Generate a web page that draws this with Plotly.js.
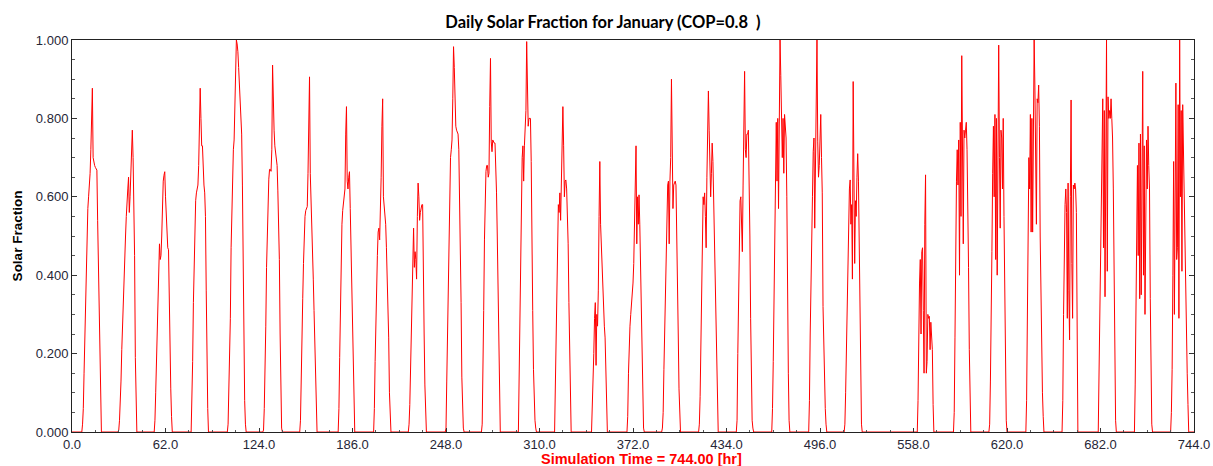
<!DOCTYPE html>
<html>
<head>
<meta charset="utf-8">
<script src="https://cdn.plot.ly/plotly-3.0.1.min.js"></script>
<style>
  html, body { margin: 0; padding: 0; background: #ffffff; }
  #chart { width: 1213px; height: 466px; }
</style>
</head>
<body>
<div id="chart"></div>
<script>
// ---- chart text ----
const chartTitle = "Daily Solar Fraction for January (COP=0.8\u00A0\u00A0)";
const xTitle = "Simulation Time = 744.00 [hr]";
const yTitle = "Solar Fraction";

// ---- time axis ----
const simulationHours = 744;
const stepHours = 0.5;          // spacing of the values inside each day
// hour of day (0-24) of the first value of each day; null = no sun that day
const dayStartHour = [6.5, 6.5, 6.5, 7.0, 7.0, 6.5, 7.0, 8.5, 8.0, 7.0,
                      7.5, 7.5, 8.0, 8.0, 8.5, 8.0, 7.0, 7.5, 8.5, 8.0,
                      8.5, 8.0, null, 8.5, 8.5, 8.0, 8.5, 8.5, 8.5, 8.5, 8.5];

// ---- solar fraction, one array per day, every 0.5 h from dayStartHour ----
const day01 = [0, 0.02, 0.06, 0.15, 0.24, 0.34, 0.43, 0.53, 0.57, 0.60, 0.625, 0.66, 0.72, 0.817, 0.877, 0.70, 0.685, 0.68, 0.675, 0.67, 0.668, 0.54, 0.42, 0.29, 0.13, 0.04, 0];
const day02 = [0, 0.005, 0.03, 0.07, 0.13, 0.21, 0.28, 0.35, 0.40, 0.45, 0.50, 0.55, 0.60, 0.62, 0.65, 0.56, 0.60, 0.68, 0.73, 0.77, 0.70, 0.61, 0.45, 0.19, 0.05, 0];
const day03 = [0, 0.03, 0.10, 0.18, 0.28, 0.38, 0.44, 0.48, 0.44, 0.45, 0.50, 0.58, 0.64, 0.655, 0.664, 0.60, 0.54, 0.50, 0.47, 0.465, 0.30, 0.20, 0.11, 0.04, 0];
const day04 = [0, 0.06, 0.18, 0.33, 0.45, 0.54, 0.59, 0.61, 0.62, 0.63, 0.68, 0.77, 0.877, 0.80, 0.73, 0.73, 0.67, 0.63, 0.61, 0.55, 0.36, 0.18, 0.06, 0];
const day05 = [0, 0.02, 0.11, 0.20, 0.29, 0.47, 0.57, 0.66, 0.72, 0.745, 0.82, 0.91, 1.0, 0.99, 0.97, 0.93, 0.89, 0.86, 0.81, 0.76, 0.63, 0.42, 0.22, 0.08, 0.02, 0];
const day06 = [0, 0.005, 0.06, 0.14, 0.27, 0.42, 0.53, 0.60, 0.645, 0.67, 0.67, 0.665, 0.72, 0.936, 0.82, 0.77, 0.73, 0.705, 0.695, 0.68, 0.615, 0.55, 0.44, 0.25, 0.10, 0.01, 0];
const day07 = [0, 0.03, 0.11, 0.20, 0.34, 0.43, 0.50, 0.55, 0.565, 0.57, 0.575, 0.66, 0.76, 0.906, 0.66, 0.57, 0.52, 0.47, 0.39, 0.31, 0.22, 0.15, 0.06, 0];
const day08 = [0, 0.06, 0.19, 0.33, 0.47, 0.53, 0.565, 0.58, 0.59, 0.62, 0.76, 0.83, 0.64, 0.62, 0.65, 0.664, 0.57, 0.47, 0.38, 0.29, 0.15, 0.02, 0];
const day09 = [0, 0.06, 0.18, 0.31, 0.40, 0.45, 0.51, 0.52, 0.49, 0.55, 0.65, 0.78, 0.85, 0.60, 0.575, 0.56, 0.53, 0.47, 0.40, 0.33, 0.24, 0.10, 0.03, 0];
const day10 = [0, 0.02, 0.07, 0.16, 0.29, 0.40, 0.48, 0.52, 0.42, 0.46, 0.44, 0.39, 0.55, 0.635, 0.60, 0.54, 0.56, 0.575, 0.58, 0.58, 0.47, 0.25, 0.12, 0.03, 0];
const day11 = [0, 0.01, 0.13, 0.25, 0.42, 0.56, 0.67, 0.70, 0.72, 0.745, 0.85, 0.983, 0.93, 0.81, 0.78, 0.77, 0.765, 0.76, 0.72, 0.62, 0.50, 0.33, 0.14, 0.04, 0.01, 0];
const day12 = [0, 0.02, 0.12, 0.31, 0.49, 0.64, 0.665, 0.68, 0.68, 0.65, 0.66, 0.83, 0.953, 0.74, 0.715, 0.745, 0.74, 0.737, 0.737, 0.69, 0.61, 0.50, 0.34, 0.19, 0.05, 0];
const day13 = [0, 0.15, 0.29, 0.47, 0.64, 0.70, 0.73, 0.64, 0.73, 0.80, 0.82, 0.996, 0.92, 0.78, 0.80, 0.80, 0.80, 0.69, 0.56, 0.31, 0.16, 0.07, 0.03, 0.01, 0];
const day14 = [0.0, 0.11, 0.25, 0.40, 0.51, 0.58, 0.56, 0.61, 0.54, 0.68, 0.75, 0.83, 0.73, 0.60, 0.64, 0.643, 0.62, 0.57, 0.48, 0.33, 0.17, 0.01, 0];
const day15 = [0, 0.05, 0.15, 0.20, 0.29, 0.33, 0.17, 0.30, 0.27, 0.36, 0.55, 0.69, 0.53, 0.47, 0.45, 0.40, 0.30, 0.27, 0.24, 0.13, 0.02, 0];
const day16 = [0, 0.04, 0.15, 0.23, 0.27, 0.30, 0.32, 0.35, 0.38, 0.43, 0.55, 0.65, 0.73, 0.48, 0.60, 0.53, 0.605, 0.53, 0.42, 0.30, 0.19, 0.07, 0.01, 0];
const day17 = [0, 0.01, 0.05, 0.16, 0.27, 0.36, 0.47, 0.56, 0.63, 0.64, 0.48, 0.64, 0.70, 0.90, 0.71, 0.57, 0.63, 0.64, 0.64, 0.63, 0.53, 0.40, 0.25, 0.11, 0.02, 0];
const day18 = [0, 0.02, 0.09, 0.25, 0.40, 0.53, 0.60, 0.58, 0.61, 0.55, 0.47, 0.65, 0.80, 0.87, 0.77, 0.62, 0.60, 0.66, 0.737, 0.69, 0.59, 0.49, 0.38, 0.26, 0.12, 0.02, 0];
const day19 = [0, 0.03, 0.20, 0.36, 0.49, 0.59, 0.60, 0.55, 0.46, 0.63, 0.80, 0.92, 0.72, 0.70, 0.76, 0.76, 0.77, 0.67, 0.50, 0.29, 0.12, 0.03, 0.01, 0];
const day20 = [0, 0.06, 0.18, 0.35, 0.58, 0.745, 0.79, 0.64, 0.80, 0.57, 0.78, 1.0, 0.91, 0.75, 0.70, 0.80, 0.66, 0.81, 0.76, 0.75, 0.60, 0.31, 0.15, 0.03, 0];
const day21 = [0, 0.08, 0.25, 0.42, 0.58, 0.60, 0.715, 0.75, 0.52, 0.65, 0.85, 1.0, 0.74, 0.65, 0.68, 0.75, 0.81, 0.70, 0.61, 0.32, 0.20, 0.12, 0.06, 0.02, 0];
const day22 = [0, 0.02, 0.10, 0.21, 0.36, 0.45, 0.55, 0.62, 0.643, 0.53, 0.58, 0.39, 0.894, 0.60, 0.43, 0.59, 0.55, 0.65, 0.71, 0.64, 0.50, 0.22, 0.08, 0.02, 0];
const day23 = [];
const day24 = [0, 0.08, 0.27, 0.38, 0.44, 0.25, 0.46, 0.47, 0.31, 0.15, 0.53, 0.656, 0.15, 0.18, 0.30, 0.29, 0.295, 0.21, 0.28, 0.24, 0.21, 0.07, 0];
const day25 = [0, 0.05, 0.24, 0.52, 0.64, 0.72, 0.63, 0.745, 0.40, 0.79, 0.55, 0.96, 0.70, 0.48, 0.77, 0.75, 0.77, 0.79, 0.72, 0.60, 0.42, 0.21, 0.05, 0];
const day26 = [0, 0.02, 0.13, 0.26, 0.46, 0.66, 0.78, 0.60, 0.81, 0.44, 0.80, 0.40, 0.86, 0.987, 0.70, 0.52, 0.77, 0.75, 0.62, 0.80, 0.55, 0.32, 0.14, 0.03, 0];
const day27 = [0, 0.08, 0.35, 0.55, 0.70, 0.62, 0.81, 0.51, 0.80, 0.51, 0.81, 1.0, 0.88, 0.62, 0.53, 0.85, 0.84, 0.885, 0.78, 0.50, 0.33, 0.18, 0.10, 0.04, 0];
const day28 = [0, 0.08, 0.30, 0.55, 0.58, 0.62, 0.56, 0.29, 0.635, 0.36, 0.235, 0.60, 0.847, 0.43, 0.29, 0.63, 0.62, 0.635, 0.62, 0.56, 0.25, 0];
const day29 = [0, 0.15, 0.34, 0.53, 0.68, 0.80, 0.85, 0.47, 0.82, 0.345, 0.82, 1.0, 0.41, 0.855, 0.80, 0.82, 0.80, 0.85, 0.80, 0.75, 0.62, 0.38, 0.13, 0.03, 0];
const day30 = [0, 0.12, 0.30, 0.52, 0.68, 0.45, 0.737, 0.34, 0.76, 0.35, 0.77, 0.92, 0.40, 0.73, 0.30, 0.70, 0.745, 0.62, 0.78, 0.68, 0.62, 0.34, 0.09, 0.02, 0];
const day31 = [0, 0.05, 0.16, 0.40, 0.69, 0.30, 0.82, 0.89, 0.44, 0.47, 0.835, 0.29, 1.0, 0.60, 0.82, 0.41, 0.835, 0.71, 0.62, 0.50, 0.32, 0.24, 0.15, 0.07, 0];

const dailyFraction = [day01, day02, day03, day04, day05, day06, day07, day08, day09, day10,
                       day11, day12, day13, day14, day15, day16, day17, day18, day19, day20,
                       day21, day22, day23, day24, day25, day26, day27, day28, day29, day30, day31];

// ---- axis ticks ----
const yTickValues = [0, 0.2, 0.4, 0.6, 0.8, 1.0];
const xTickStep = 62;

// ---- assemble the series ----
const simTime = [0];
const solarFraction = [0];
dailyFraction.forEach((vals, d) => {
  if (dayStartHour[d] === null) return;
  vals.forEach((v, i) => {
    simTime.push(24 * d + dayStartHour[d] + i * stepHours);
    solarFraction.push(v);
  });
});
simTime.push(simulationHours);
solarFraction.push(0);

const tickFont = { family: "Liberation Sans, Arial, sans-serif", size: 13, color: "#262636" };

const trace = {
  type: "scatter",
  mode: "lines",
  x: simTime,
  y: solarFraction,
  line: { color: "#ff0000", width: 1 },
  hoverinfo: "x+y",
  showlegend: false
};

const layout = {
  width: 1213,
  height: 466,
  paper_bgcolor: "#ffffff",
  plot_bgcolor: "#ffffff",
  margin: { l: 72, r: 19, t: 40, b: 34, pad: 0 },
  showlegend: false,
  title: {
    text: chartTitle,
    font: { family: "Lato, Carlito, sans-serif", size: 16.5, color: "#000000", weight: "bold" },
    x: 603 / 1213, xref: "container", xanchor: "center",
    y: 1 - 22 / 466, yref: "container", yanchor: "middle"
  },
  xaxis: {
    range: [0, simulationHours],
    tick0: 0,
    dtick: xTickStep,
    tickformat: ".1f",
    ticks: "inside",
    ticklen: 4,
    tickcolor: "#333333",
    tickfont: tickFont,
    showline: true,
    linecolor: "#222222",
    linewidth: 1,
    mirror: true,
    showgrid: false,
    zeroline: false,
    minor: { dtick: 15.5, ticks: "inside", ticklen: 2, tickcolor: "#555555" },
    title: { text: "" }
  },
  yaxis: {
    range: [0, 1],
    tickvals: yTickValues,
    tickformat: ".3f",
    ticks: "inside",
    ticklen: 5,
    tickcolor: "#333333",
    tickfont: tickFont,
    showline: true,
    linecolor: "#222222",
    linewidth: 1,
    mirror: "ticks",
    showgrid: false,
    zeroline: false,
    minor: { dtick: 0.05, tick0: 0, ticks: "inside", ticklen: 3, tickcolor: "#555555" },
    title: {
      text: yTitle,
      font: { family: "Liberation Sans, Arial, sans-serif", size: 13.5, color: "#000000", weight: "bold" },
      standoff: 10
    }
  },
  annotations: [{
    text: xTitle,
    xref: "paper", yref: "paper",
    x: (641.5 - 72) / 1122, y: -(459 - 432) / 392,
    xanchor: "center", yanchor: "middle",
    showarrow: false,
    font: { family: "Liberation Sans, Arial, sans-serif", size: 14.5, color: "#ff0000", weight: "bold" }
  }]
};

Plotly.newPlot("chart", [trace], layout, { displayModeBar: false, staticPlot: true });
</script>
</body>
</html>
